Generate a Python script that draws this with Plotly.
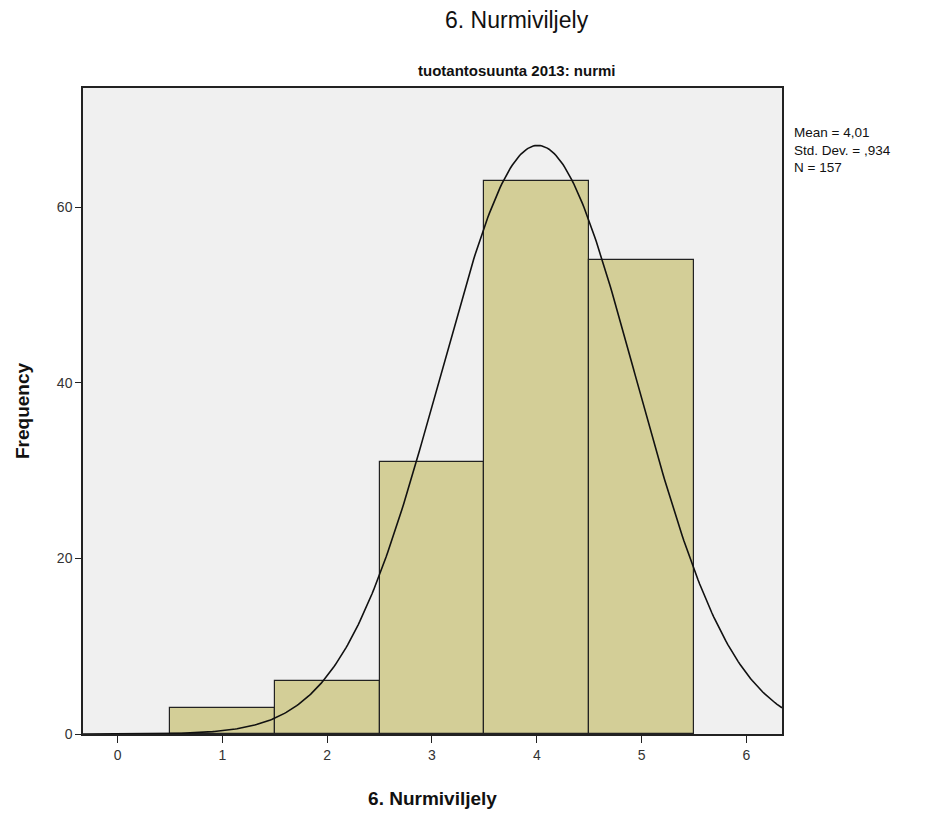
import numpy as np
import plotly.graph_objects as go

# histogram data
categories = [1, 2, 3, 4, 5]
counts = [3, 6, 31, 63, 54]
mean_val = 4.01
std_val = 0.934
n_val = 157
x_ticks = [0, 1, 2, 3, 4, 5, 6]
y_ticks = [0, 20, 40, 60]

FONT = "Liberation Sans, Arial, sans-serif"

# normal curve fitted from the reported mean / sd / N (bin width 1)
xc = np.linspace(-0.33, 6.34, 400)
yc = n_val * np.exp(-0.5 * ((xc - mean_val) / std_val) ** 2) / (std_val * np.sqrt(2 * np.pi))

fig = go.Figure()
fig.add_trace(go.Bar(x=categories, y=counts, width=1,
                     marker=dict(color="#d3ce97", line=dict(color="#222222", width=1.2)),
                     showlegend=False))
fig.add_trace(go.Scatter(x=xc, y=yc, mode="lines", line=dict(color="#111111", width=1.6),
                         showlegend=False))

# page body has an 8px margin, so the figure is a bit smaller than the window
fig.update_layout(
    width=917, height=805,
    margin=dict(l=75, r=143, t=80, b=79),
    paper_bgcolor="white", plot_bgcolor="#f0f0f0",
    font=dict(family=FONT, color="#333333", size=14),
    bargap=0,
    xaxis=dict(range=[-0.33, 6.34], tickvals=x_ticks, ticks="outside", ticklen=7,
               tickcolor="#222222", showgrid=False, zeroline=False, automargin=False,
               showline=True, linecolor="#222222", linewidth=1.5, mirror=True,
               title=dict(text="<b>6. Nurmiviljely</b>", font=dict(size=19, color="#111111"), standoff=30)),
    yaxis=dict(range=[0, 73.6], tickvals=y_ticks, ticks="outside", ticklen=6,
               tickcolor="#222222", showgrid=False, zeroline=False, automargin=False,
               showline=True, linecolor="#222222", linewidth=1.5, mirror=True,
               title=dict(text="<b>Frequency</b>", font=dict(size=19, color="#111111"), standoff=22)),
)

fig.add_annotation(text="6. Nurmiviljely", xref="paper", yref="paper", x=0.621, y=1.0,
                   yshift=68, showarrow=False, xanchor="center", yanchor="middle",
                   font=dict(size=23, color="#111111"))
fig.add_annotation(text="<b>tuotantosuunta 2013: nurmi</b>", xref="paper", yref="paper",
                   x=0.621, y=1.0, yshift=18, showarrow=False, xanchor="center",
                   yanchor="middle", font=dict(size=15, color="#111111"))
fig.add_annotation(text=f"Mean = {mean_val:.2f}".replace(".", ",") + "<br>Std. Dev. = ,934<br>N = " + str(n_val),
                   xref="paper", yref="paper", x=1.0, y=1.0, xshift=10, yshift=-35,
                   showarrow=False, xanchor="left", yanchor="top", align="left",
                   font=dict(size=13.5, color="#111111"))

fig.write_html("out.html")
